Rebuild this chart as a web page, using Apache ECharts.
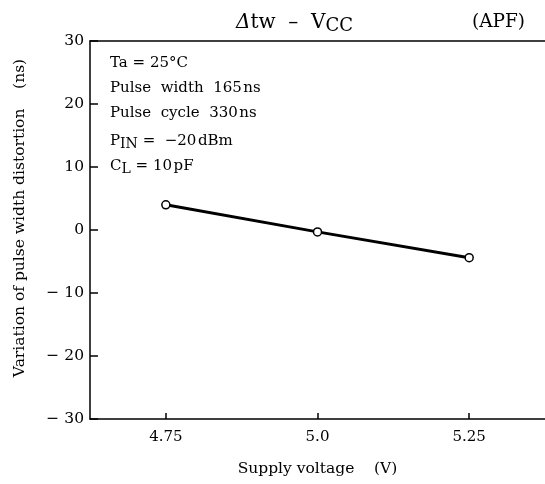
<!DOCTYPE html>
<html><head><meta charset="utf-8">
<script src="https://cdn.jsdelivr.net/npm/echarts@6/dist/echarts.min.js"></script>
<style>html,body{margin:0;padding:0;background:#fff}#c{width:545px;height:484px}</style>
</head><body><div id="c"></div>
<script>
const voltage = [4.75, 5.0, 5.25];
const distortion = [4.0, -0.3, -4.4];
const xTicks = [4.75, 5.0, 5.25];
const yTicks = [-30, -20, -10, 0, 10, 20, 30];
const notes = [
  "Ta = 25°C",
  "Pulse  width  165{u| }ns",
  "Pulse  cycle  330{u| }ns",
  "P{s|IN} =  −20{u| }dBm",
  "C{s|L} = 10{u| }pF"
];
const FONT = "DejaVu Serif";
const chart = echarts.init(document.getElementById('c'), null, {renderer: 'canvas'});
const noteTitles = notes.map((t, i) => ({
  text: t, left: 105, top: 51 + i * 25,
  textStyle: {fontFamily: FONT, fontSize: 15, fontWeight: 'normal', color: '#000',
    rich: {
      s: {fontFamily: FONT, fontSize: 14, verticalAlign: 'bottom', padding: [6, 0, 0, 0], color: '#000'},
      u: {fontFamily: FONT, fontSize: 5}
    }}
}));
chart.setOption({
  animation: false,
  title: [
    {text: "{i|Δ}tw  –  V{s|CC}", left: 231, top: 5,
     textStyle: {fontFamily: FONT, fontSize: 20, fontWeight: 'normal', color: '#000',
       rich: {i: {fontFamily: FONT, fontSize: 20, fontStyle: 'italic', color: '#000'},
              s: {fontFamily: FONT, fontSize: 18, verticalAlign: 'bottom', padding: [7, 0, 0, 0], color: '#000'}}}},
    {text: "(APF)", left: 467, top: 8,
     textStyle: {fontFamily: FONT, fontSize: 18.5, fontWeight: 'normal', color: '#000'}}
  ].concat(noteTitles),
  grid: {left: 90, right: 0, top: 41, bottom: 65, containLabel: false},
  xAxis: [{
    type: 'value', min: 4.625, max: 5.375, position: 'bottom',
    name: 'Supply voltage    (V)', nameLocation: 'middle', nameGap: 42,
    nameTextStyle: {fontFamily: FONT, fontSize: 15.5, color: '#000'},
    axisLine: {show: true, onZero: false, lineStyle: {color: '#000', width: 1.5}},
    axisTick: {show: true, inside: true, length: 6, customValues: xTicks, lineStyle: {color: '#000', width: 1.5}},
    axisLabel: {show: true, customValues: xTicks, margin: 11, fontFamily: FONT, fontSize: 15, color: '#000',
      formatter: v => (Math.abs(v - 5) < 1e-9 ? '5.0' : String(v))},
    splitLine: {show: false}
  }, {
    type: 'value', min: 4.625, max: 5.375, position: 'top',
    axisLine: {show: true, onZero: false, lineStyle: {color: '#000', width: 1.5}},
    axisTick: {show: false}, axisLabel: {show: false}, splitLine: {show: false}
  }],
  yAxis: {
    type: 'value', min: -30, max: 30, interval: 10,
    name: 'Variation of pulse width distortion    (ns)', nameLocation: 'middle', nameGap: 62,
    nameTextStyle: {fontFamily: FONT, fontSize: 15.5, color: '#000', padding: [0, 0, 0, 24]},
    axisLine: {show: true, onZero: false, lineStyle: {color: '#000', width: 1.5}},
    axisTick: {show: true, inside: true, length: 8, lineStyle: {color: '#000', width: 1.5}},
    axisLabel: {margin: 6, fontFamily: FONT, fontSize: 15.5, color: '#000',
      formatter: v => (v < 0 ? '− ' + Math.abs(v) : String(v))},
    splitLine: {show: false}
  },
  series: [{
    type: 'line', xAxisIndex: 0,
    data: voltage.map((v, i) => [v, distortion[i]]),
    symbol: 'circle', symbolSize: 8,
    lineStyle: {color: '#000', width: 3},
    itemStyle: {color: '#fff', borderColor: '#000', borderWidth: 1.5},
    z: 3
  }]
});
</script></body></html>
